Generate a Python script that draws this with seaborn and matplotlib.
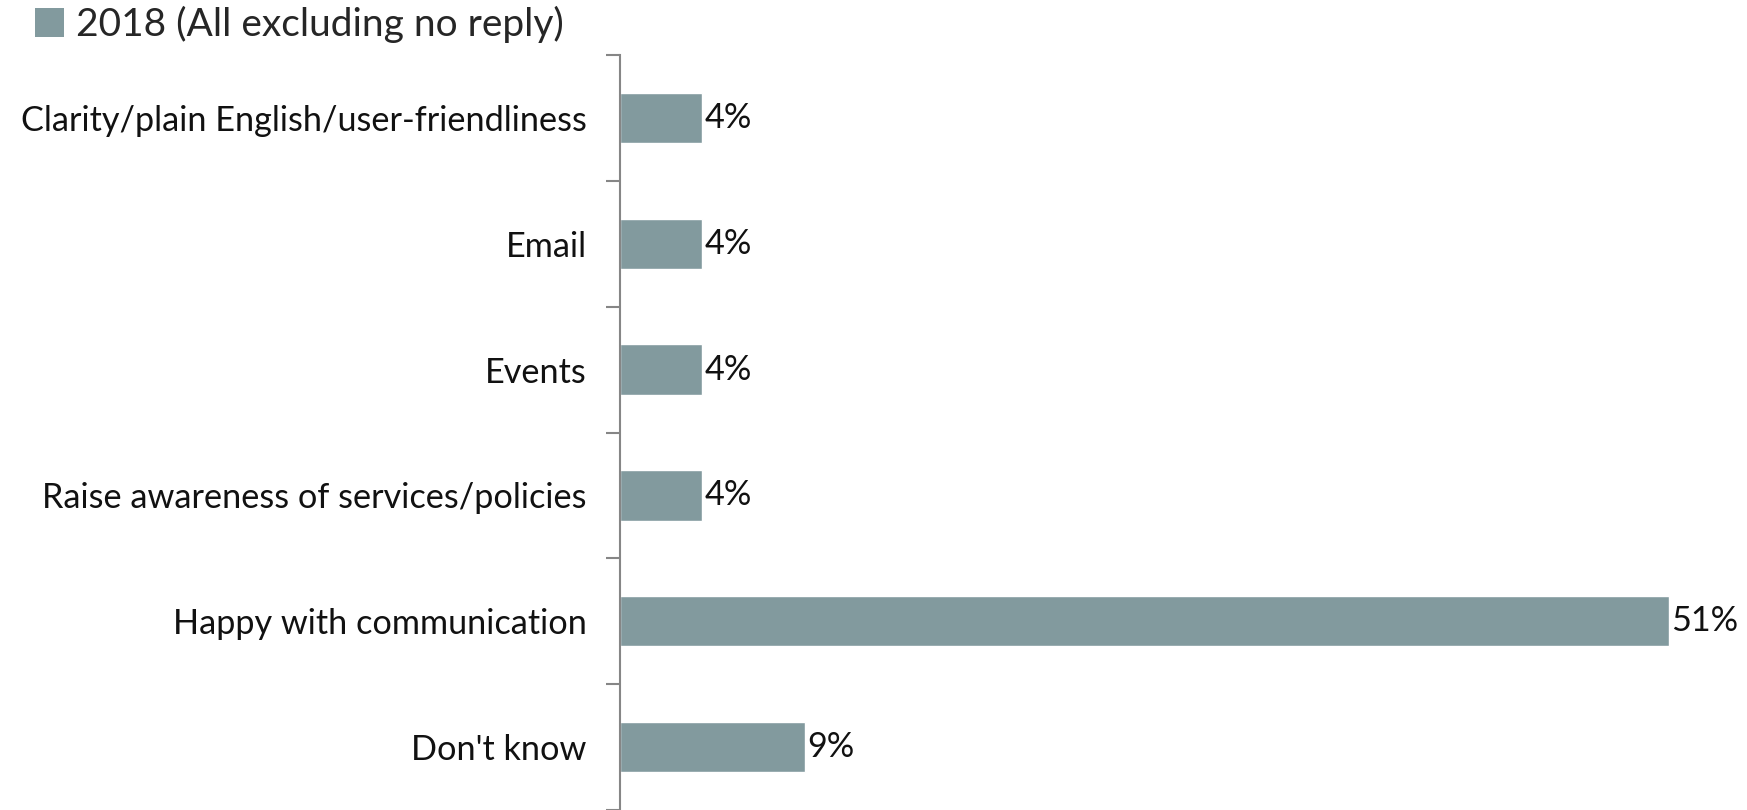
import numpy as np
import pandas as pd
import seaborn as sns
import matplotlib.pyplot as plt
from matplotlib.patches import Patch

categories = [
    "Clarity/plain English/user-friendliness",
    "Email",
    "Events",
    "Raise awareness of services/policies",
    "Happy with communication",
    "Don't know",
]
values = [4, 4, 4, 4, 51, 9]
series_name = "2018 (All excluding no reply)"

bar_color = "#829A9E"
axis_color = "#868686"

sns.set_theme(style="white")
plt.rcParams['font.family'] = ['Lato', 'DejaVu Sans']

df = pd.DataFrame({"category": categories, "value": values})

fig = plt.figure(figsize=(17.47, 8.10), dpi=100)
ax = fig.add_axes([620 / 1747, 0, 1 - 620 / 1747, 1 - 55 / 810])

sns.barplot(data=df, y="category", x="value", color=bar_color,
            width=0.4, saturation=1, ax=ax)

ax.set_xlim(0, 54.8)
ax.set_ylim(len(categories) - 0.5, -0.5)
ax.set_xlabel("")
ax.set_ylabel("")
ax.set_xticks([])

for side in ["top", "right", "bottom"]:
    ax.spines[side].set_visible(False)
ax.spines["left"].set_color(axis_color)
ax.spines["left"].set_linewidth(1.5)

# ticks sit between categories
ax.set_yticks(np.arange(-0.5, len(categories), 1), minor=True)
ax.tick_params(axis="y", which="minor", length=10, width=1.5, color=axis_color, left=True)
ax.tick_params(axis="y", which="major", length=0, pad=24, labelsize=24.7, labelcolor="#111111")

for i, v in enumerate(values):
    ax.text(v + 0.1, i, f"{v}%", va="center", ha="left", fontsize=24.7,
            color="#111111", clip_on=False)

handle = Patch(facecolor=bar_color, edgecolor="none")
fig.legend([handle], [series_name], loc="upper left", bbox_to_anchor=(0.0, 1.036),
           frameon=False, fontsize=28, handlelength=0.75, handleheight=0.75,
           handletextpad=0.3)

fig.savefig("out.png", dpi=100)
